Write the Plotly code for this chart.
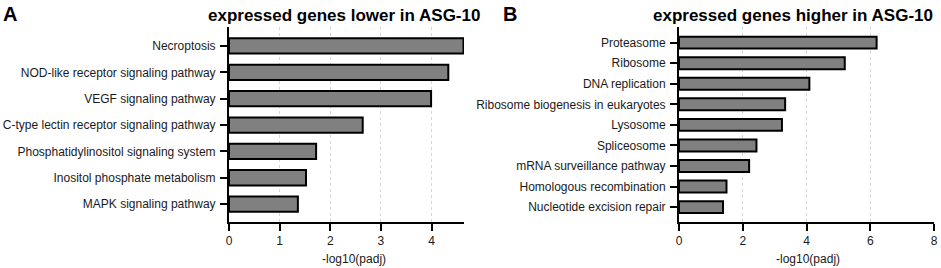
import plotly.graph_objects as go

# Panel A data (top to bottom)
cats_a = ["Necroptosis", "NOD-like receptor signaling pathway", "VEGF signaling pathway",
          "C-type lectin receptor signaling pathway", "Phosphatidylinositol signaling system",
          "Inositol phosphate metabolism", "MAPK signaling pathway"]
vals_a = [4.63, 4.33, 3.99, 2.64, 1.72, 1.52, 1.36]

# Panel B data (top to bottom)
cats_b = ["Proteasome", "Ribosome", "DNA replication", "Ribosome biogenesis in eukaryotes",
          "Lysosome", "Spliceosome", "mRNA surveillance pathway", "Homologous recombination",
          "Nucleotide excision repair"]
vals_b = [6.20, 5.20, 4.09, 3.33, 3.23, 2.43, 2.20, 1.49, 1.38]

title_a = "expressed genes lower in ASG-10"
title_b = "expressed genes higher in ASG-10"
xlabel = "-log10(padj)"

W, H = 941, 268
FONT = "Liberation Sans, Arial, sans-serif"
TXT = "#1a1a1a"

fig = go.Figure()
bar_style = dict(orientation="h", marker=dict(color="#808080", line=dict(color="black", width=2)),
                 showlegend=False, hoverinfo="x+y")
fig.add_trace(go.Bar(x=vals_a, y=cats_a, xaxis="x", yaxis="y", **bar_style))
fig.add_trace(go.Bar(x=vals_b, y=cats_b, xaxis="x2", yaxis="y2", **bar_style))

ydom = [(H - 221.5) / H, (H - 27) / H]
common_x = dict(showline=True, linecolor="black", linewidth=2, ticks="outside", ticklen=7,
                tickwidth=2, tickcolor="black", showgrid=True, gridcolor="#d6d6d6",
                griddash="3px,3px", gridwidth=1, zeroline=False, automargin=False,
                ticklabelstandoff=0,
                tickfont=dict(size=12, color=TXT, family=FONT))
common_y = dict(type="category", showline=True, linecolor="black", linewidth=2, ticks="outside",
                ticklen=7, tickwidth=2, tickcolor="black", showgrid=False, zeroline=False,
                automargin=False, ticklabelstandoff=2,
                tickfont=dict(size=12, color=TXT, family=FONT))

fig.update_layout(
    width=W, height=H, margin=dict(l=0, r=0, t=0, b=0, autoexpand=False),
    plot_bgcolor="white", paper_bgcolor="white", bargap=0.42,
    font=dict(family=FONT, color=TXT),
    xaxis=dict(domain=[229 / W, 464 / W], range=[0, 4.64], tickvals=[0, 1, 2, 3, 4],
               anchor="y", **common_x),
    yaxis=dict(domain=ydom, range=[len(cats_a) - 1 + 0.66, -0.72], anchor="x", **common_y),
    xaxis2=dict(domain=[679 / W, 934 / W], range=[0, 8.0001], tickvals=[0, 2, 4, 6, 8],
                anchor="y2", **common_x),
    yaxis2=dict(domain=ydom, range=[len(cats_b) - 1 + 0.70, -0.76], anchor="x2", **common_y),
)

ann = []
def add_text(txt, xpx, ypx, size, anchor="center", color=TXT):
    ann.append(dict(text=txt, x=xpx / W, y=1 - ypx / H, xref="paper", yref="paper",
                    xanchor=anchor, yanchor="middle", showarrow=False,
                    font=dict(size=size, color=color, family=FONT)))

add_text("<b>" + title_a + "</b>", 343.5, 15.5, 17, color="black")
add_text("<b>" + title_b + "</b>", 793, 15.5, 17, color="black")
add_text("<b>A</b>", 1, 14, 20, "left", color="black")
add_text("<b>B</b>", 501, 14, 20, "left", color="black")
add_text(xlabel, 354, 259, 12)
add_text(xlabel, 807.5, 259, 12)
fig.update_layout(annotations=ann)

fig.write_html("out.html", config={"displayModeBar": False},
               post_script="document.body.style.margin='0';document.body.style.padding='0';")
